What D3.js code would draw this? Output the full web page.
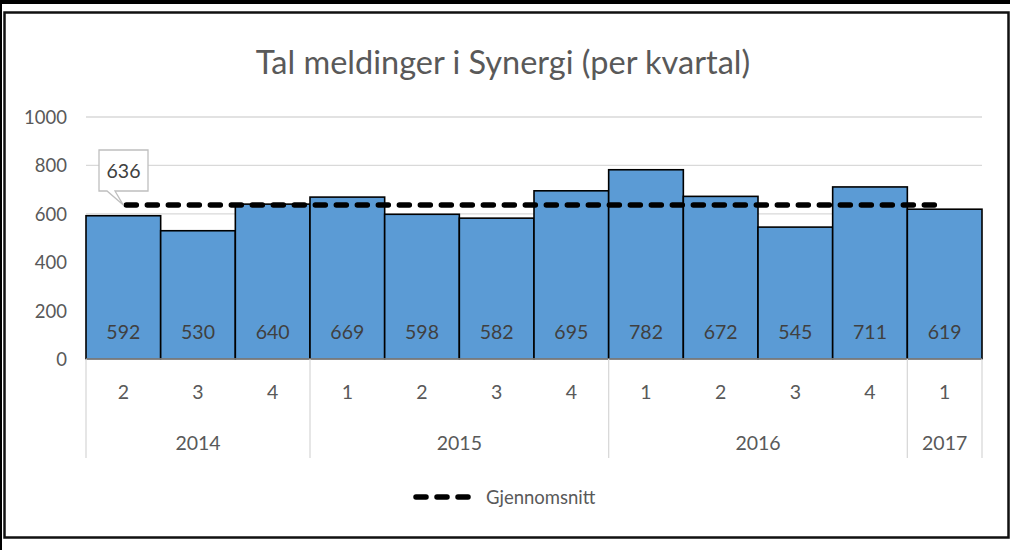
<!DOCTYPE html>
<html><head><meta charset="utf-8">
<script src="https://cdn.jsdelivr.net/npm/d3@7"></script>
<style>
html,body{margin:0;padding:0;background:#fff;}
svg{display:block;font-family:Lato, "Open Sans", sans-serif;}
</style></head>
<body>
<svg id="c" width="1024" height="550"></svg>
<script>
const title = "Tal meldinger i Synergi (per kvartal)";
const quarters = ["2","3","4","1","2","3","4","1","2","3","4","1"];
const years = ["2014","2014","2014","2015","2015","2015","2015","2016","2016","2016","2016","2017"];
const values = [592,530,640,669,598,582,695,782,672,545,711,619];
const average = 636;
const yTicks = [0,200,400,600,800,1000];
const legendLabel = "Gjennomsnitt";

const svg = d3.select("#c");
// frame
svg.append("rect").attr("x",0).attr("y",0).attr("width",1010).attr("height",4).attr("fill","#000");
svg.append("rect").attr("x",0).attr("y",0).attr("width",2).attr("height",550).attr("fill","#000");
svg.append("rect").attr("x",4.5).attr("y",12.5).attr("width",1004).attr("height",525)
  .attr("fill","#fff").attr("stroke","#111").attr("stroke-width",2.5);

const x0 = 86, x1 = 982;
const idx = d3.range(values.length);
const x = d3.scaleBand().domain(idx).range([x0,x1]).padding(0);
const y = d3.scaleLinear().domain([0,1000]).range([359,117]);

// title
svg.append("text").attr("x",503).attr("y",74).attr("text-anchor","middle")
  .attr("font-size",32.5).attr("fill","#595959").text(title);

// gridlines
svg.append("g").selectAll("line").data(yTicks.filter(d=>d>0)).join("line")
  .attr("x1",x0).attr("x2",x1).attr("y1",d=>y(d)).attr("y2",d=>y(d))
  .attr("stroke","#d9d9d9").attr("stroke-width",1.3);

// y axis labels
const yAxis = d3.axisLeft(y).tickValues(yTicks).tickFormat(d3.format("d")).tickSize(0).tickPadding(0);
const gy = svg.append("g").attr("transform","translate(67,0)").call(yAxis);
gy.select(".domain").remove();
gy.selectAll("text").attr("font-size",18.5).attr("fill","#595959").attr("font-family","Lato, sans-serif").attr("dy","0.35em");

// bars
svg.append("g").selectAll("rect").data(values).join("rect")
  .attr("x",(d,i)=>x(i)).attr("width",x.bandwidth())
  .attr("y",d=>y(d)).attr("height",d=>y(0)-y(d))
  .attr("fill","#5b9bd5").attr("stroke","#000").attr("stroke-width",1.6);

// value labels
svg.append("g").selectAll("text").data(values).join("text")
  .attr("x",(d,i)=>x(i)+x.bandwidth()/2).attr("y",339)
  .attr("text-anchor","middle").attr("font-size",19.5).attr("fill","#404040")
  .text(d=>d);

// category axis separators
const yearStarts = idx.filter(i=>i===0 || years[i]!==years[i-1]);
const seps = yearStarts.map(i=>x(i)).concat([x1]);
svg.append("g").selectAll("line").data(seps).join("line")
  .attr("x1",d=>d).attr("x2",d=>d).attr("y1",359).attr("y2",458)
  .attr("stroke","#d9d9d9").attr("stroke-width",1.3);
svg.append("line").attr("x1",x0).attr("x2",x1).attr("y1",359).attr("y2",359)
  .attr("stroke","#d9d9d9").attr("stroke-width",1);

// quarter labels
svg.append("g").selectAll("text").data(quarters).join("text")
  .attr("x",(d,i)=>x(i)+x.bandwidth()/2).attr("y",399)
  .attr("text-anchor","middle").attr("font-size",19.5).attr("fill","#595959").text(d=>d);
// year labels
const yearGroups = yearStarts.map((s,k)=>{
  const e = (k+1<yearStarts.length? yearStarts[k+1]: values.length);
  return {year: years[s], cx:(x(s)+x(e-1)+x.bandwidth())/2};
});
svg.append("g").selectAll("text").data(yearGroups).join("text")
  .attr("x",d=>d.cx).attr("y",450).attr("text-anchor","middle")
  .attr("font-size",19.5).attr("fill","#595959").text(d=>d.year);

// average line
const cxFirst = x(0)+x.bandwidth()/2, cxLast = x(values.length-1)+x.bandwidth()/2;
svg.append("line").attr("x1",cxFirst+3).attr("x2",cxLast-3).attr("y1",y(average)).attr("y2",y(average))
  .attr("stroke","#000").attr("stroke-width",5.5).attr("stroke-dasharray","10,11")
  .attr("stroke-linecap","round");

// callout
const bx=99, by=150, bw=49, bh=41;
const ax = cxFirst, ay = y(average);
svg.append("path")
  .attr("d",`M${bx},${by} H${bx+bw} V${by+bh} H${bx+16} L${ax},${ay} L${bx+8},${by+bh} H${bx} Z`)
  .attr("fill","#fff").attr("stroke","#bfbfbf").attr("stroke-width",1.3);
svg.append("text").attr("x",bx+bw/2).attr("y",by+28).attr("text-anchor","middle")
  .attr("font-size",19.5).attr("fill","#404040").text(average);

// legend
svg.append("line").attr("x1",416).attr("x2",470).attr("y1",497).attr("y2",497)
  .attr("stroke","#000").attr("stroke-width",5.5).attr("stroke-dasharray","10,11")
  .attr("stroke-linecap","round");
svg.append("text").attr("x",486).attr("y",504).attr("font-size",18.5).attr("fill","#595959").text(legendLabel);
</script>
</body></html>
